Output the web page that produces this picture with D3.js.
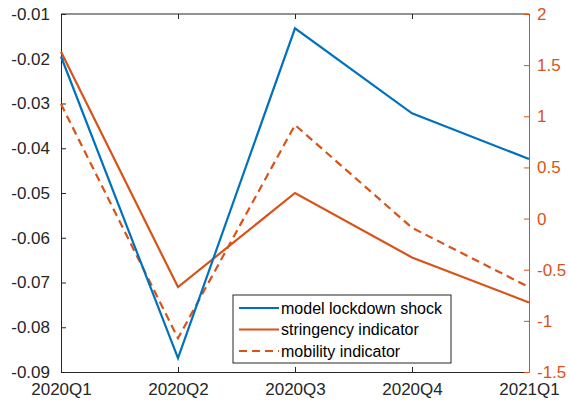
<!DOCTYPE html>
<html>
<head>
<meta charset="utf-8">
<script src="https://cdn.jsdelivr.net/npm/d3@7"></script>
<style>
body { margin: 0; background: #fff; }
text { font-family: "Liberation Sans", Arial, sans-serif; }
</style>
</head>
<body>
<div id="chart"></div>
<script>
var quarters = ["2020Q1", "2020Q2", "2020Q3", "2020Q4", "2021Q1"]
var lockdownShock = [-0.0195, -0.0869, -0.0132, -0.0322, -0.0424]
var stringency = [1.63, -0.67, 0.25, -0.38, -0.82]
var mobility = [1.12, -1.17, 0.915, -0.09, -0.67]
var leftTicks = [-0.09, -0.08, -0.07, -0.06, -0.05, -0.04, -0.03, -0.02, -0.01]
var rightTicks = [-1.5, -1, -0.5, 0, 0.5, 1, 1.5, 2]

var W = 568, H = 406
var plotLeft = 61, plotRight = 529, plotTop = 14, plotBottom = 372
var blue = "#0072BD", orange = "#D95319", dark = "#262626"

var svg = d3.select("#chart").append("svg")
	.attr("width", W).attr("height", H)

var x = d3.scalePoint().domain(quarters).range([plotLeft, plotRight])
var yL = d3.scaleLinear().domain([-0.09, -0.01]).range([plotBottom, plotTop])
var yR = d3.scaleLinear().domain([-1.5, 2]).range([plotBottom, plotTop])

// frame: top line
svg.append("line")
	.attr("x1", plotLeft).attr("x2", plotRight).attr("y1", plotTop).attr("y2", plotTop)
	.attr("stroke", dark).attr("stroke-width", 1)

// bottom axis, ticks inward
var xAxis = svg.append("g").attr("transform", "translate(0," + plotBottom + ")")
	.call(d3.axisBottom(x).tickSizeInner(-5).tickSizeOuter(0).tickPadding(11))
xAxis.select(".domain").attr("stroke", dark)
xAxis.selectAll("line").attr("stroke", dark)
xAxis.selectAll("text").attr("fill", dark).style("font-size", "17px")

// top ticks
svg.append("g").attr("transform", "translate(0," + plotTop + ")")
	.call(d3.axisTop(x).tickSizeInner(-5).tickSizeOuter(0).tickFormat(""))
	.call(function(g){ g.select(".domain").remove() })
	.selectAll("line").attr("stroke", dark)

// left axis
var yAxisL = svg.append("g").attr("transform", "translate(" + plotLeft + ",0)")
	.call(d3.axisLeft(yL).tickValues(leftTicks)
		.tickFormat(function(d){ return d3.format(".2f")(d).replace("−", "-") })
		.tickSizeInner(-5).tickSizeOuter(0).tickPadding(11))
yAxisL.select(".domain").attr("stroke", dark)
yAxisL.selectAll("line").attr("stroke", dark)
yAxisL.selectAll("text").attr("fill", dark).style("font-size", "17px")

// right axis
var yAxisR = svg.append("g").attr("transform", "translate(" + plotRight + ",0)")
	.call(d3.axisRight(yR).tickValues(rightTicks).tickFormat(function(d){ return String(d) })
		.tickSizeInner(-5).tickSizeOuter(0).tickPadding(8))
yAxisR.select(".domain").attr("stroke", orange)
yAxisR.selectAll("line").attr("stroke", orange)
yAxisR.selectAll("text").attr("fill", orange).style("font-size", "17px")

var lineL = d3.line().x(function(d, i){ return x(quarters[i]) }).y(function(d){ return yL(d) })
var lineR = d3.line().x(function(d, i){ return x(quarters[i]) }).y(function(d){ return yR(d) })

svg.append("path").datum(stringency).attr("d", lineR)
	.attr("fill", "none").attr("stroke", orange).attr("stroke-width", 2.2)
svg.append("path").datum(mobility).attr("d", lineR)
	.attr("fill", "none").attr("stroke", orange).attr("stroke-width", 2.2)
	.attr("stroke-dasharray", "8,5")
svg.append("path").datum(lockdownShock).attr("d", lineL)
	.attr("fill", "none").attr("stroke", blue).attr("stroke-width", 2.2)

// legend
var legendItems = [
	{ name: "model lockdown shock", color: blue, dash: null },
	{ name: "stringency indicator", color: orange, dash: null },
	{ name: "mobility indicator", color: orange, dash: "8,5" }
]
var lg = svg.append("g").attr("transform", "translate(233,295)")
lg.append("rect").attr("width", 218).attr("height", 68)
	.attr("fill", "#fff").attr("stroke", dark).attr("stroke-width", 1)
var rows = lg.selectAll("g.item").data(legendItems).enter().append("g")
	.attr("transform", function(d, i){ return "translate(0," + (13 + i * 21.5) + ")" })
rows.append("line").attr("x1", 6).attr("x2", 46)
	.attr("stroke", function(d){ return d.color }).attr("stroke-width", 2.2)
	.attr("stroke-dasharray", function(d){ return d.dash })
rows.append("text").attr("x", 48).attr("dy", "0.35em")
	.style("font-size", "16px").attr("fill", "#000")
	.text(function(d){ return d.name })
</script>
</body>
</html>
